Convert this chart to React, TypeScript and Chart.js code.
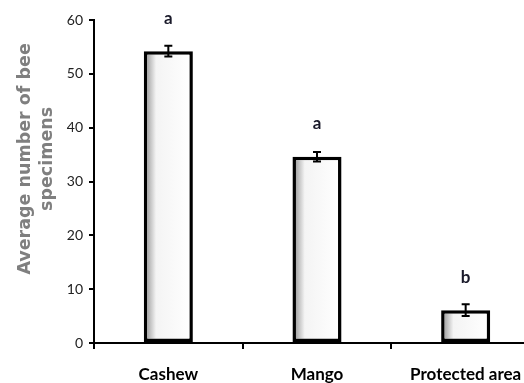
import React, { useEffect, useRef } from "react";
import { Chart, registerables } from "chart.js";

Chart.register(...registerables);

const categories = ["Cashew", "Mango", "Protected area"];
const means = [54.2, 34.6, 6.1];
const errors = [1.0, 0.9, 1.1];
const letters = ["a", "a", "b"];
const yTitle = ["Average number of bee", "specimens"];

const barExtras = {
  id: "barExtras",
  afterDatasetsDraw(chart: any) {
    const ctx = chart.ctx;
    const meta = chart.getDatasetMeta(0);
    const y = chart.scales.y;
    ctx.save();
    meta.data.forEach((bar: any, i: number) => {
      const x = bar.x;
      const top = y.getPixelForValue(means[i] + errors[i]);
      const bot = y.getPixelForValue(means[i] - errors[i]);
      ctx.strokeStyle = "#000";
      ctx.lineWidth = 2;
      ctx.beginPath();
      ctx.moveTo(x, top);
      ctx.lineTo(x, bot);
      ctx.moveTo(x - 4, top);
      ctx.lineTo(x + 4, top);
      ctx.moveTo(x - 4, bot);
      ctx.lineTo(x + 4, bot);
      ctx.stroke();
      ctx.fillStyle = "#1a1a2a";
      ctx.font = "bold 17px Lato";
      ctx.textAlign = "center";
      ctx.textBaseline = "middle";
      ctx.fillText(letters[i], x, y.getPixelForValue(means[i]) - 33);
    });
    ctx.restore();
  },
};

const yTitlePlugin = {
  id: "yTitlePlugin",
  afterDraw(chart: any) {
    const ctx = chart.ctx;
    const area = chart.chartArea;
    const cy = area.top + (area.bottom - area.top) * 0.43;
    ctx.save();
    ctx.fillStyle = "#7f7f7f";
    ctx.font = "bold 17.5px 'DejaVu Sans'";
    ctx.textAlign = "center";
    ctx.textBaseline = "alphabetic";
    const baselines = [30, 52];
    yTitle.forEach((line, i) => {
      ctx.save();
      ctx.translate(baselines[i], cy);
      ctx.rotate(-Math.PI / 2);
      ctx.fillText(line, 0, 0);
      ctx.restore();
    });
    ctx.restore();
  },
};

export default function App() {
  const ref = useRef<HTMLCanvasElement>(null);
  useEffect(() => {
    document.body.style.overflow = "hidden";
    const canvas = ref.current!;
    const chart = new Chart(canvas, {
      type: "bar",
      data: {
        labels: categories,
        datasets: [
          {
            data: means,
            borderColor: "#000",
            borderWidth: 3.5,
            borderSkipped: false,
            barPercentage: 0.33,
            categoryPercentage: 1,
            backgroundColor: (c: any) => {
              const ch = c.chart;
              const xs = ch.scales && ch.scales.x;
              if (!ch.chartArea || !xs || c.dataIndex === undefined) return "#fff";
              const cx = xs.getPixelForValue(c.dataIndex);
              const w = (xs.width / categories.length) * 0.33;
              if (!Number.isFinite(cx) || !Number.isFinite(w)) return "#fff";
              const g = ch.ctx.createLinearGradient(cx - w / 2, 0, cx + w / 2, 0);
              g.addColorStop(0, "#8a8a8a");
              g.addColorStop(0.25, "#f4f4f4");
              g.addColorStop(1, "#ffffff");
              return g;
            },
          },
        ],
      },
      options: {
        animation: false,
        responsive: false,
        maintainAspectRatio: false,
        layout: { padding: { top: 20, left: 0, right: 0, bottom: 0 } },
        plugins: { legend: { display: false }, tooltip: { enabled: false } },
        scales: {
          x: {
            offset: true,
            grid: {
              offset: true,
              drawOnChartArea: false,
              drawTicks: true,
              tickLength: 6,
              color: "#000",
              lineWidth: 2,
            },
            border: { display: true, color: "#000", width: 2 },
            ticks: {
              color: "#000",
              font: { family: "Lato", size: 17, weight: "bold" },
              padding: 15,
            },
            afterFit: (s: any) => {
              s.height = 40;
            },
          },
          y: {
            min: 0,
            max: 60,
            ticks: {
              stepSize: 10,
              color: "#222",
              font: { family: "Lato", size: 14 },
              padding: 6,
            },
            grid: {
              drawOnChartArea: false,
              tickLength: 5,
              color: "#000",
              lineWidth: 2,
            },
            border: { display: true, color: "#000", width: 2 },
            afterFit: (s: any) => {
              s.width = 94;
            },
          },
        },
      },
      plugins: [barExtras, yTitlePlugin],
    });
    return () => chart.destroy();
  }, []);
  return (
    <div style={{ position: "absolute", left: 0, top: 0, width: 540, height: 383 }}>
      <canvas ref={ref} width={540} height={383} />
    </div>
  );
}
